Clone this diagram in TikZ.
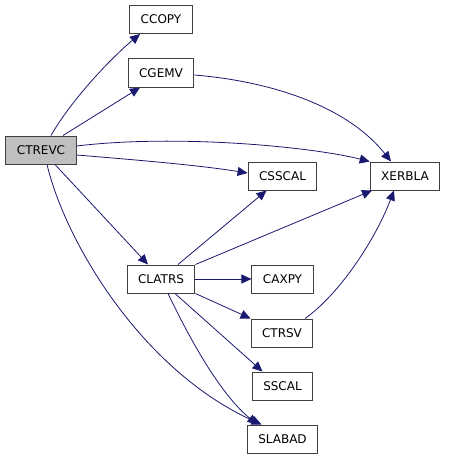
\documentclass[tikz,border=0pt]{standalone}
\usepackage{fontspec}
\setmainfont{DejaVu Sans}
\usetikzlibrary{arrows.meta}
\definecolor{edgeblue}{HTML}{191970}
\definecolor{boxgray}{HTML}{404040}
\definecolor{rootgray}{HTML}{BFBFBF}
\begin{document}
\begin{tikzpicture}[x=1pt, y=-1pt,
  box/.style={draw=boxgray, fill=white, line width=1pt, minimum height=28pt, inner xsep=11pt, font=\fontsize{12}{14}\selectfont},
  call/.style={draw=edgeblue, line width=0.8pt, -{Triangle[length=10pt,width=9pt]}}]
\useasboundingbox (0,0) rectangle (448,460);
\node[box, fill=rootgray] (ctrevc) at (41,150) {CTREVC};
\node[box] (ccopy) at (161,19.5) {CCOPY};
\node[box] (cgemv) at (161,73) {CGEMV};
\node[box] (csscal) at (282.5,176) {CSSCAL};
\node[box] (xerbla) at (405,176) {XERBLA};
\node[box] (clatrs) at (161,279) {CLATRS};
\node[box] (caxpy) at (282.5,279) {CAXPY};
\node[box] (ctrsv) at (282,333) {CTRSV};
\node[box] (sscal) at (282.5,386) {SSCAL};
\node[box] (slabad) at (282.5,439) {SLABAD};
\draw[call] ([xshift=10pt]ctrevc.north) .. controls +(20,-35) and +(-30,25) .. ([xshift=-21pt]ccopy.south);
\draw[call] ([xshift=22pt]ctrevc.north) -- ([xshift=-21pt]cgemv.south);
\draw[call] ([yshift=4pt]ctrevc.east) .. controls +(100,-12) and +(-60,-15) .. (xerbla.north west);
\draw[call] ([yshift=-5pt]ctrevc.east) .. controls +(60,5) and +(-50,-8) .. ([yshift=3pt]csscal.west);
\draw[call] ([xshift=14pt]ctrevc.south) -- ([xshift=-13pt]clatrs.north);
\draw[call] ([xshift=6pt]ctrevc.south) .. controls +(18,76) and +(-121,-55) .. ([xshift=-21pt]slabad.north);
\draw[call] ([yshift=-2pt]cgemv.east) .. controls +(84,7) and +(-41,-52) .. ([xshift=-14pt]xerbla.north);
\draw[call] ([xshift=17pt]clatrs.north) -- ([xshift=-16pt]csscal.south);
\draw[call] (clatrs.north east) -- ([xshift=-33pt]xerbla.south);
\draw[call] (clatrs.east) -- (caxpy.west);
\draw[call] (clatrs.south east) -- (ctrsv.north west);
\draw[call] ([xshift=14pt]clatrs.south) -- ([xshift=-20pt]sscal.north);
\draw[call] ([xshift=7pt]clatrs.south) .. controls +(22,46) and +(-37,-30) .. ([xshift=-25pt]slabad.north);
\draw[call] ([xshift=23pt]ctrsv.north) .. controls +(34,-24) and +(-19,50) .. ([xshift=-11pt]xerbla.south);
\end{tikzpicture}
\end{document}
